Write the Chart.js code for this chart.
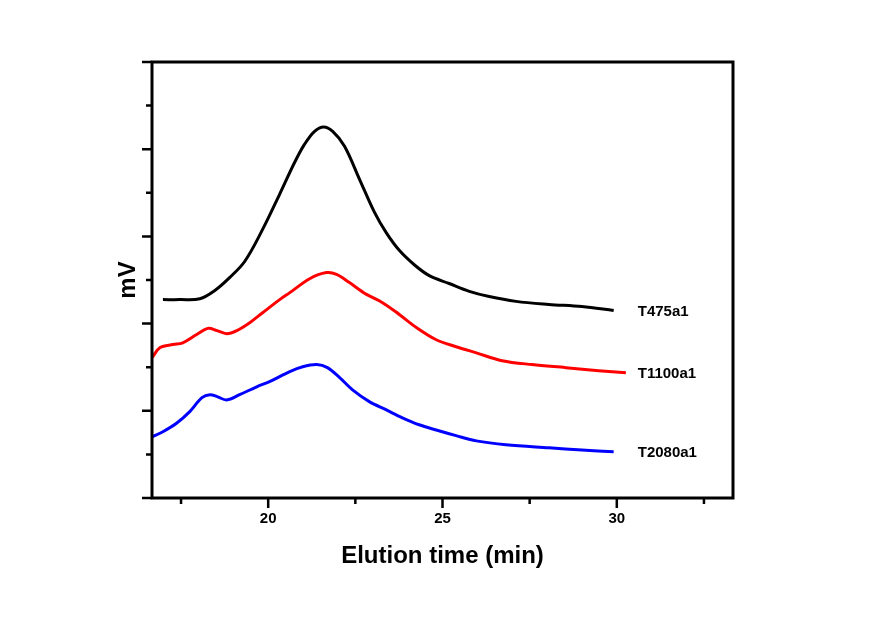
<!DOCTYPE html>
<html>
<head>
<meta charset="utf-8">
<script src="https://cdn.jsdelivr.net/npm/chart.js@4"></script>
<style>
  body { margin: 0; background: #fff; }
  #wrap { width: 876px; height: 624px; }
</style>
</head>
<body>
<div id="wrap"><canvas id="gpcChart" width="876" height="624"></canvas></div>
<script>
// elution time (min) and signal (arbitrary mV, offset per trace)
const t475Time = [16.98, 17.47, 18.04, 18.47, 18.90, 19.33, 19.84, 20.33, 20.76, 21.04, 21.33, 21.59, 21.85, 22.19, 22.62, 23.05, 23.39, 23.76, 24.19, 24.62, 25.19, 25.77, 26.34, 27.11, 28.05, 29.00, 29.91];
const t475Signal = [4.55, 4.55, 4.57, 4.76, 5.06, 5.43, 6.16, 6.97, 7.70, 8.11, 8.41, 8.51, 8.41, 8.07, 7.31, 6.55, 6.08, 5.68, 5.35, 5.10, 4.92, 4.74, 4.62, 4.51, 4.44, 4.39, 4.30];

const t1100Time = [16.67, 16.90, 17.27, 17.55, 17.95, 18.27, 18.53, 18.81, 19.10, 19.47, 19.84, 20.33, 20.62, 21.19, 21.67, 21.96, 22.33, 22.82, 23.28, 23.76, 24.25, 24.82, 25.39, 25.97, 26.71, 27.57, 28.54, 29.48, 30.26];
const t1100Signal = [3.22, 3.45, 3.52, 3.56, 3.75, 3.89, 3.84, 3.77, 3.84, 4.02, 4.25, 4.55, 4.71, 5.03, 5.17, 5.13, 4.94, 4.67, 4.48, 4.21, 3.91, 3.63, 3.47, 3.33, 3.15, 3.06, 2.99, 2.92, 2.87];

const t2080Time = [16.67, 16.98, 17.38, 17.75, 18.10, 18.33, 18.55, 18.81, 19.18, 19.67, 20.04, 20.62, 20.99, 21.39, 21.70, 22.05, 22.42, 22.90, 23.39, 23.85, 24.33, 24.82, 25.39, 25.97, 26.82, 28.05, 29.00, 29.91];
const t2080Signal = [1.40, 1.52, 1.72, 1.98, 2.30, 2.37, 2.32, 2.25, 2.37, 2.55, 2.67, 2.90, 3.01, 3.06, 2.99, 2.76, 2.48, 2.21, 2.02, 1.84, 1.68, 1.56, 1.43, 1.31, 1.22, 1.15, 1.10, 1.06];

const seriesNames = ['T475a1', 'T1100a1', 'T2080a1'];
const seriesColors = ['#000000', '#ff0000', '#0000ff'];
const xTickLabels = [20, 25, 30];

function toPoints(xs, ys) {
  return xs.map((x, i) => ({ x: x, y: ys[i] }));
}

const times = [t475Time, t1100Time, t2080Time];
const signals = [t475Signal, t1100Signal, t2080Signal];

const datasets = seriesNames.map((name, i) => ({
  label: name,
  data: toPoints(times[i], signals[i]),
  borderColor: seriesColors[i],
  borderWidth: 3,
  pointRadius: 0,
  fill: false,
  tension: 0.35,
}));

// frame, tick marks and the trace names at the right end
const framePlugin = {
  id: 'frame',
  afterDraw(chart) {
    const ctx = chart.ctx;
    const a = chart.chartArea;
    const xs = chart.scales.x;
    const ys = chart.scales.y;
    ctx.save();
    ctx.strokeStyle = '#000';
    ctx.lineWidth = 3;
    ctx.strokeRect(a.left, a.top, a.right - a.left, a.bottom - a.top);

    ctx.lineWidth = 2.5;
    ctx.beginPath();
    xs.ticks.forEach((tk) => {
      const px = xs.getPixelForValue(tk.value);
      const len = tk.value % 5 === 0 ? 10 : 6;
      ctx.moveTo(px, a.bottom);
      ctx.lineTo(px, a.bottom + len);
    });
    ys.ticks.forEach((tk) => {
      const py = ys.getPixelForValue(tk.value);
      const len = tk.value % 2 === 0 ? 10 : 6;
      ctx.moveTo(a.left, py);
      ctx.lineTo(a.left - len, py);
    });
    ctx.stroke();

    ctx.fillStyle = '#000';
    ctx.font = 'bold 15px Arial, "Liberation Sans"';
    ctx.textBaseline = 'middle';
    ctx.textAlign = 'left';
    const labelX = xs.getPixelForValue(30.6);
    chart.data.datasets.forEach((ds) => {
      const last = ds.data[ds.data.length - 1];
      ctx.fillText(ds.label, labelX, ys.getPixelForValue(last.y) + 1);
    });
    ctx.restore();
  },
};

const ctx = document.getElementById('gpcChart').getContext('2d');

new Chart(ctx, {
  type: 'line',
  data: { datasets: datasets },
  options: {
    responsive: false,
    animation: false,
    layout: { padding: { left: 0, top: 62, right: 143, bottom: 0 } },
    plugins: {
      legend: { display: false },
      tooltip: { enabled: false },
    },
    scales: {
      x: {
        type: 'linear',
        min: 16.667,
        max: 33.333,
        grid: { display: false, drawTicks: false },
        border: { display: false },
        ticks: {
          stepSize: 2.5,
          includeBounds: false,
          autoSkip: false,
          maxRotation: 0,
          padding: 12,
          color: '#000',
          font: { family: 'Arial, "Liberation Sans"', size: 15, weight: 'bold' },
          callback: (v) => (xTickLabels.includes(v) ? String(v) : ''),
        },
        title: {
          display: true,
          text: 'Elution time (min)',
          color: '#000',
          font: { family: 'Arial, "Liberation Sans"', size: 24, weight: 'bold' },
          padding: { top: 0, bottom: 53 },
        },
        afterFit(scale) { scale.height = 126; },
      },
      y: {
        min: 0,
        max: 10,
        grid: { display: false, drawTicks: false },
        border: { display: false },
        ticks: { stepSize: 1, callback: () => '' },
        title: {
          display: true,
          text: 'mV',
          color: '#000',
          font: { family: 'Arial, "Liberation Sans"', size: 24, weight: 'bold' },
          padding: { top: 114, bottom: 0 },
        },
        afterFit(scale) { scale.width = 152; },
      },
    },
  },
  plugins: [framePlugin],
});
</script>
</body>
</html>
